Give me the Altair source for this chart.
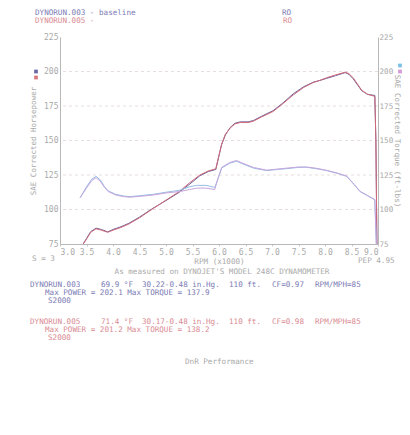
import altair as alt
import pandas as pd

# ---- data ----
hp_rpm_003 = [3.42, 3.50, 3.58, 3.68, 3.78, 3.90, 4.00, 4.15, 4.30, 4.50, 4.75, 5.00, 5.25, 5.45, 5.64, 5.80, 5.94, 6.00, 6.05, 6.12, 6.21, 6.30, 6.40, 6.55, 6.65, 6.80, 7.02, 7.20, 7.40, 7.60, 7.78, 7.90, 8.03, 8.20, 8.38, 8.45, 8.53, 8.62, 8.69, 8.80, 8.94, 8.96, 8.98]
hp_003 = [74, 79, 84, 86.5, 85.5, 83.8, 85.5, 87.5, 90, 94.5, 100.8, 106.5, 112.5, 118.5, 124.5, 127.5, 129, 139, 147, 154, 159.4, 162.5, 163.5, 163.5, 164.5, 167.5, 171.6, 177, 183.8, 189, 192.3, 193.5, 195, 197, 199.2, 198, 194.8, 190, 186.2, 183.5, 182.6, 150, 73]
hp_005 = [74, 78.5, 83.5, 86.0, 85.0, 83.5, 85.0, 87.0, 89.5, 94.0, 100.5, 106.8, 113.0, 119.5, 125.0, 128.0, 129.5, 139.5, 147.5, 154.5, 159.0, 162.0, 163.0, 163.0, 164.0, 167.0, 171.0, 176.5, 183.0, 188.5, 192.0, 193.5, 195.5, 197.5, 199.5, 198.5, 195.5, 190.5, 186.5, 183.5, 182.0, 150, 73]

tq_rpm_003 = [3.38, 3.50, 3.60, 3.68, 3.76, 3.84, 3.91, 4.05, 4.20, 4.32, 4.50, 4.76, 5.00, 5.26, 5.45, 5.58, 5.75, 5.92, 5.98, 6.05, 6.20, 6.33, 6.45, 6.65, 6.90, 7.10, 7.28, 7.50, 7.65, 7.85, 8.03, 8.25, 8.41, 8.55, 8.66, 8.80, 8.94, 8.97]
tq_003 = [108.5, 116.5, 122.0, 124.0, 121.5, 116.5, 113.5, 111.0, 109.8, 109.3, 110.0, 111.0, 112.5, 114.0, 116.5, 117.5, 117.5, 116.0, 122, 130, 133.5, 135, 133, 130, 128.2, 129, 129.6, 130.5, 130.6, 129.5, 128.2, 126, 124, 118, 113, 110, 107, 73]
tq_005 = [108.5, 115.5, 121.0, 123.0, 120.5, 116.0, 113.0, 110.5, 109.3, 108.9, 109.5, 110.5, 112.0, 113.0, 114.5, 115.5, 115.5, 114.5, 122.5, 130.5, 134.0, 135.5, 133.5, 130.5, 128.5, 129.3, 130.0, 130.8, 130.8, 129.8, 128.4, 126.2, 124.2, 118.3, 113.2, 110.2, 107.2, 73]

x_ticks = [3.0, 3.5, 4.0, 4.5, 5.0, 5.5, 6.0, 6.5, 7.0, 7.5, 8.0, 8.5, 9.0]
y_ticks = [75, 100, 125, 150, 175, 200, 225]

FONT = "DejaVu Sans Mono"
GREY = "#a9a9a9"
BLUE_T = "#7a7ab4"
RED_T = "#d98a92"

rows = []
for r, v in zip(hp_rpm_003, hp_003):
    rows.append({"rpm": r, "val": v, "series": "hp003"})
for r, v in zip(hp_rpm_003, hp_005):
    rows.append({"rpm": r, "val": v, "series": "hp005"})
for r, v in zip(tq_rpm_003, tq_003):
    rows.append({"rpm": r, "val": v, "series": "tq003"})
for r, v in zip(tq_rpm_003, tq_005):
    rows.append({"rpm": r, "val": v, "series": "tq005"})
df = pd.DataFrame(rows)

color_scale = alt.Scale(domain=["hp003", "hp005", "tq003", "tq005"],
                        range=["#6c5f9c", "#cf6a78", "#96bce6", "#c7a6dc"])

xs = alt.Scale(domain=[3, 9], nice=False)
ys = alt.Scale(domain=[75, 225], nice=False)

x_enc = alt.X("rpm:Q", scale=xs,
              axis=alt.Axis(values=x_ticks, format=".1f", title="RPM (x1000)",
                            labelFont=FONT, labelFontSize=8, labelColor=GREY,
                            titleFont=FONT, titleFontSize=7.6, titleColor=GREY,
                            titleFontWeight="normal", titlePadding=1,
                            domainColor="#b8b8b8", tickColor="#c8c8c8", tickSize=2,
                            labelPadding=2, grid=False))

grid_df = pd.DataFrame({"g": [100, 125, 150, 175, 200]})
grid = alt.Chart(grid_df).mark_rule(color="#e6dede", strokeDash=[3, 3], strokeWidth=1).encode(
    y=alt.Y("g:Q", scale=ys, axis=None))

hp_lines = alt.Chart(df[df.series.str.startswith("hp")]).mark_line(strokeWidth=1, clip=True).encode(
    x=x_enc,
    y=alt.Y("val:Q", scale=ys,
            axis=alt.Axis(values=y_ticks, title="SAE Corrected Horsepower", orient="left",
                          labelFont=FONT, labelFontSize=8, labelColor=GREY,
                          titleFont=FONT, titleFontSize=7.5, titleColor=GREY,
                          titleFontWeight="normal", titlePadding=6,
                          domainColor="#b8b8b8", ticks=False, labelPadding=2, grid=False)),
    color=alt.Color("series:N", scale=color_scale, legend=None),
    detail="series:N")

tq_lines = alt.Chart(df[df.series.str.startswith("tq")]).mark_line(strokeWidth=1, clip=True).encode(
    x=alt.X("rpm:Q", scale=xs, axis=None),
    y=alt.Y("val:Q", scale=ys,
            axis=alt.Axis(values=y_ticks, title="SAE Corrected Torque (ft-lbs)", orient="right",
                          labelFont=FONT, labelFontSize=7.6, labelColor=GREY,
                          titleFont=FONT, titleFontSize=7.6, titleColor=GREY,
                          titleFontWeight="normal", titlePadding=0,
                          domainColor="#b8b8b8", ticks=False, labelPadding=1, grid=False)),
    color=alt.Color("series:N", scale=color_scale, legend=None),
    detail="series:N")

# annotation texts (page pixel positions, converted to plot-relative)
ox, oy = 60, 37
texts = [
    ("DYNORUN.003 - baseline", 35, 13, BLUE_T),
    ("DYNORUN.005 -", 35, 21, RED_T),
    ("RO", 282, 13, BLUE_T),
    ("RO", 283, 21, RED_T),
    ("S = 3", 32, 259, GREY),
    ("PEP 4.95", 358, 261, GREY),
    ("DYNORUN.003", 30, 285, BLUE_T),
    ("69.9 \u00b0F", 101, 285, BLUE_T),
    ("30.22-0.48 in.Hg.", 142, 285, BLUE_T),
    ("110 ft.", 229, 285, BLUE_T),
    ("CF=0.97", 272, 285, BLUE_T),
    ("RPM/MPH=85", 315, 285, BLUE_T),
    ("Max POWER = 202.1  Max TORQUE = 137.9", 45, 293, BLUE_T),
    ("S2000", 48, 301, BLUE_T),
    ("DYNORUN.005", 30, 322, RED_T),
    ("71.4 \u00b0F", 101, 322, RED_T),
    ("30.17-0.48 in.Hg.", 142, 322, RED_T),
    ("110 ft.", 229, 322, RED_T),
    ("CF=0.98", 272, 322, RED_T),
    ("RPM/MPH=85", 315, 322, RED_T),
    ("Max POWER = 201.2  Max TORQUE = 138.2", 45, 330, RED_T),
    ("S2000", 48, 338, RED_T),
    ("DnR Performance", 185, 362, GREY),
]
tdf = pd.DataFrame([{"t": t, "px": x - ox, "py": y - oy, "c": c} for t, x, y, c in texts])
text_layer = alt.Chart(tdf).mark_text(font=FONT, fontSize=7.6, align="left", baseline="middle").encode(
    x=alt.X("px:Q", scale=None), y=alt.Y("py:Q", scale=None),
    text="t:N", color=alt.Color("c:N", scale=None))

center_texts = pd.DataFrame([
    {"t": "As measured on DYNOJET'S MODEL 248C DYNAMOMETER", "px": 222 - ox, "py": 272 - oy},
])
center_layer = alt.Chart(center_texts).mark_text(font=FONT, fontSize=7.6, align="center",
                                                 baseline="middle", color=GREY).encode(
    x=alt.X("px:Q", scale=None), y=alt.Y("py:Q", scale=None), text="t:N")

sq = pd.DataFrame([
    {"px": 36 - ox, "py": 71.5 - oy, "c": "#6c6aa8"},
    {"px": 36 - ox, "py": 77.5 - oy, "c": "#d77a7e"},
    {"px": 400 - ox, "py": 65.5 - oy, "c": "#7cc0e6"},
    {"px": 400 - ox, "py": 71.5 - oy, "c": "#d79ad8"},
])
sq_layer = alt.Chart(sq).mark_square(size=14, opacity=1).encode(
    x=alt.X("px:Q", scale=None), y=alt.Y("py:Q", scale=None),
    color=alt.Color("c:N", scale=None))

chart = alt.layer(grid, hp_lines, tq_lines, text_layer, center_layer, sq_layer).resolve_scale(
    y="independent", x="independent", color="independent"
).properties(
    width=318, height=207,
    padding={"left": 52, "top": 29, "right": 24, "bottom": 183},
    autosize=alt.AutoSizeParams(type="none"),
    background="#ffffff",
).configure_view(stroke=None)

chart.save("out.html", embed_options={"renderer": "svg", "actions": False})
